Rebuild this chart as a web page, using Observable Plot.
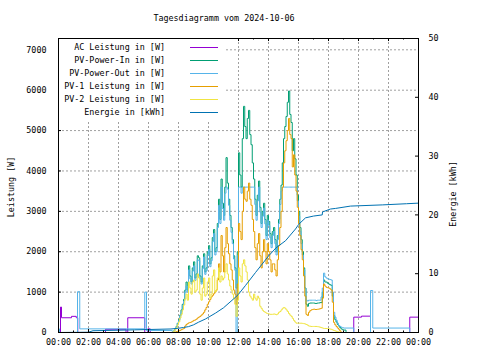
<!DOCTYPE html>
<html><head><meta charset="utf-8">
<script src="https://cdn.jsdelivr.net/npm/d3@7"></script>
<script src="https://cdn.jsdelivr.net/npm/@observablehq/plot@0.6"></script>
<style>body{margin:0;background:#fff}svg{display:block}</style>
</head><body><div id="chart"></div>
<script>
const titleText = "Tagesdiagramm vom 2024-10-06";
const yLabelLeft = "Leistung [W]";
const yLabelRight = "Energie [kWh]";
const seriesNames = ["AC Leistung in [W]","PV-Power-In in [W]","PV-Power-Out in [W]","PV-1 Leistung in [W]","PV-2 Leistung in [W]","Energie in [kWh]"];
const seriesColors = ["#9400d3","#009e73","#56b4e9","#e69f00","#f0e442","#0072b2"];

const xTickHours = [0,2,4,6,8,10,12,14,16,18,20,22,24];
const xTickLabels = ["00:00","02:00","04:00","06:00","08:00","10:00","12:00","14:00","16:00","18:00","20:00","22:00","00:00"];
const xMinorHours = [1,3,5,7,9,11,13,15,17,19,21,23];
const wTicks = [0,1000,2000,3000,4000,5000,6000,7000];
const kwhTicks = [0,10,20,30,40,50];
const wMax = 7280;
const kwhMax = 50;

// daytime samples: every 5 minutes from 07:30 to 19:00 (rows = hours)
const dayStart = "07:30";
const sampleMinutes = 5;
const powerIn = [
  0,10,40,90,150,230,
  320,430,560,700,820,1050,1250,1050,1650,1400,1250,1600,
  1750,1350,1450,1900,1850,1400,1250,1650,1950,1500,1600,2000,
  2150,1700,1850,2350,2550,2000,2100,2700,3300,2800,3800,3200,
  2900,3600,4330,3700,3300,2900,2600,2300,1900,1600,1100,2000,
  4450,3900,3600,4800,5600,5100,4800,5300,5500,4900,4650,4200,
  3800,3300,2900,3400,3750,3100,2700,3000,3200,2800,2400,2900,
  2750,2450,2200,2500,2600,2300,2000,2400,2800,3300,3650,4200,
  4800,5100,5350,5700,5980,5400,5200,4500,4800,4300,3900,3400,
  3000,2600,2300,2000,1600,1100,700,650,720,730,730,730,
  730,720,720,730,730,740,740,1000,1300,1250,1250,1220,
  1200,1180,1170,900,420,320,260,200,160,120,90,70,
  60];
const powerOut = [
  50,20,40,85,140,220,
  300,410,520,670,780,1000,1150,1000,1550,1330,1200,1520,
  1650,1290,1380,1800,1780,1330,1200,1580,1870,1440,1530,1920,
  2060,1630,1780,2250,2450,1920,2000,2600,3150,2700,3600,3070,
  2780,3450,3600,3550,3150,2780,2480,2200,1820,1540,0,1900,
  3600,3600,3450,3600,3600,3600,3600,3600,3600,3600,3600,3600,
  3600,3170,2780,3260,3600,2980,2600,2880,3080,2690,2300,2780,
  2650,2350,2100,2400,2500,2200,1920,2300,2700,3170,3500,3600,
  3600,3600,3600,3600,3600,3600,3600,3600,3600,3600,3600,3260,
  2880,2500,2200,1920,1550,1100,800,780,800,800,800,800,
  800,800,790,800,800,800,880,1100,1470,1380,1350,1330,
  1320,1310,1300,1000,500,380,300,230,170,150,130,120,
  110];
const pv1 = [
  0,0,0,10,20,30,
  40,55,70,85,100,160,200,220,240,250,260,280,
  300,310,330,360,380,400,430,460,500,560,620,700,
  760,820,880,920,960,1000,1050,1300,1700,1500,2400,1900,
  1500,2100,2600,2200,1950,1700,1550,1300,1050,950,700,1200,
  2700,2500,2300,3000,3600,3300,3250,3500,3700,3300,3150,2800,
  2500,2100,1800,2200,2450,1900,1600,2000,2300,2000,1700,2200,
  2000,1800,1500,1700,1700,1550,1400,1800,2150,2600,3000,3600,
  4200,4500,4750,5000,5300,4900,4800,4100,4400,3900,3500,3100,
  2700,2400,2050,1800,1400,900,450,420,500,540,560,570,
  580,570,570,575,580,590,600,850,1200,1150,1120,1110,
  1100,1080,1050,750,250,190,150,110,80,40,0,0,
  0];
const pv2 = [
  0,10,30,70,120,190,
  260,360,450,560,680,830,950,800,1250,1100,950,1250,
  1300,1000,1050,1450,1350,950,800,1100,1350,900,950,1250,
  1350,850,950,1400,1550,1000,1050,1350,1600,1250,1400,1300,
  1350,1500,1700,1450,1300,1150,1050,950,850,700,400,800,
  1600,1400,1250,1700,1800,1650,1500,1300,1000,900,850,800,
  950,850,800,900,850,650,600,550,520,500,480,470,
  460,450,450,450,460,450,440,460,500,520,560,600,
  620,600,560,520,470,430,400,350,300,260,230,230,
  230,230,230,225,220,210,200,180,160,155,150,150,
  150,150,150,145,140,130,120,110,100,100,100,95,
  90,85,80,65,50,40,30,20,10,5,0,0,
  0];

// night segments
const acTimes  = ["00:00","00:08","00:12","00:52","01:11","01:17","03:08","04:30","04:37","05:45","05:57","06:07","07:30","07:35","19:00","19:41","20:12","20:48","23:25","24:00"];
const acValues = [0,630,365,400,365,0,80,0,365,0,90,0,0,NaN,0,380,405,0,380,380];
const outMorningTimes  = ["00:00","00:04","01:16","01:25","05:45","05:52"];
const outMorningValues = [90,0,1010,90,1000,50];
const outEveningTimes  = ["19:41","20:48","20:57","23:25","24:00"];
const outEveningValues = [0,1040,110,0,0];
const zeroMorningTimes = ["00:00"]; const zeroMorningValues = [0];
const zeroEveningTimes = ["19:10","24:00"]; const zeroEveningValues = [0,0];

const energyTimes  = ["00:00","02:00","02:18","05:03","07:30","08:00","08:20","08:40","09:00","09:20","09:48","10:28","11:00","11:48","12:00","12:28","13:08","14:00","14:30","15:08","15:48","16:01","16:28","17:00","17:35","17:36","18:08","18:28","19:28","21:35","23:12","24:00"];
const energyValues = [0,0.05,0.3,0.45,0.6,0.73,0.85,1.0,1.3,1.75,2.3,3.3,4.2,6.0,6.5,8.0,10.2,13.0,14.4,15.6,17.6,18.4,19.5,19.8,20.0,20.5,21.0,21.1,21.5,21.7,21.9,22.0];

const parseT = s => { const [h, m] = s.split(":").map(Number); return h + m / 60; };
const pts = (times, values) => times.map((t, i) => ({x: parseT(t), y: values[i]}));
const dayPts = values => values.map((v, i) => ({x: parseT(dayStart) + i * sampleMinutes / 60, y: v}));
const kwhToW = wMax / kwhMax;

const acData = pts(acTimes, acValues);
const inData = [...pts(zeroMorningTimes, zeroMorningValues), ...dayPts(powerIn), ...pts(zeroEveningTimes, zeroEveningValues)];
const outData = [...pts(outMorningTimes, outMorningValues), ...dayPts(powerOut), ...pts(outEveningTimes, outEveningValues)];
const pv1Data = [...pts(zeroMorningTimes, zeroMorningValues), ...dayPts(pv1), ...pts(zeroEveningTimes, zeroEveningValues)];
const pv2Data = [...pts(zeroMorningTimes, zeroMorningValues), ...dayPts(pv2), ...pts(zeroEveningTimes, zeroEveningValues)];
const energyData = pts(energyTimes, energyValues);

const FONT = "DejaVu Sans Mono";
const FS = 8.4;
const grid = {stroke: "#a0a0a0", strokeDasharray: "2,2", strokeWidth: 1, strokeOpacity: 1};
const lineOpts = (color) => ({x: "x", y: "y", stroke: color, strokeWidth: 1, curve: "step-after"});
const tickW = 0.2; // hours, ~3px
const tickH = 75;  // W, ~3px

const svg = Plot.plot({
  width: 480, height: 360,
  marginLeft: 58, marginRight: 62, marginTop: 38, marginBottom: 28,
  x: {domain: [0, 24], axis: null},
  y: {domain: [0, wMax], axis: null},
  style: {fontFamily: FONT, fontSize: FS + "px", background: "#fff", color: "#000"},
  marks: [
    Plot.ruleX(xTickHours.slice(1, -1), {x: d => d, ...grid}),
    Plot.ruleY(wTicks.slice(1), {y: d => d, ...grid}),
    Plot.line(acData, lineOpts(seriesColors[0])),
    Plot.line(inData, lineOpts(seriesColors[1])),
    Plot.line(outData, lineOpts(seriesColors[2])),
    Plot.line(pv1Data, lineOpts(seriesColors[3])),
    Plot.line(pv2Data, lineOpts(seriesColors[4])),
    Plot.line(energyData, {x: "x", y: d => d.y * kwhToW, stroke: seriesColors[5], strokeWidth: 1}),
    Plot.ruleY(wTicks, {y: d => d, x1: 0, x2: tickW, stroke: "#000"}),
    Plot.ruleY(kwhTicks, {y: d => d * kwhToW, x1: 24 - tickW, x2: 24, stroke: "#000"}),
    Plot.ruleX(xTickHours, {x: d => d, y1: 0, y2: tickH, stroke: "#000"}),
    Plot.ruleX(xTickHours, {x: d => d, y1: wMax - tickH, y2: wMax, stroke: "#000"}),
    Plot.ruleX(xMinorHours, {x: d => d, y1: 0, y2: tickH / 2, stroke: "#000"}),
    Plot.ruleX(xMinorHours, {x: d => d, y1: wMax - tickH / 2, y2: wMax, stroke: "#000"}),
    Plot.frame({stroke: "#000", strokeWidth: 1}),
    Plot.text(xTickHours, {x: d => d, text: (d, i) => xTickLabels[i], frameAnchor: "bottom", dy: 12, fill: "#000"}),
    Plot.text(wTicks, {y: d => d, text: d => String(d), frameAnchor: "left", dx: -12, textAnchor: "end", fill: "#000"}),
    Plot.text(kwhTicks, {y: d => d * kwhToW, text: d => String(d), frameAnchor: "right", dx: 10, textAnchor: "start", fill: "#000"})
  ]
});

const s = d3.select(svg);
s.append("text").attr("x", 224).attr("y", 18).attr("text-anchor", "middle").attr("dominant-baseline", "central")
  .attr("font-family", FONT).attr("font-size", FS).attr("fill", "#000").text(titleText);
s.append("text").attr("transform", "translate(11,187) rotate(-90)").attr("text-anchor", "middle").attr("dominant-baseline", "central")
  .attr("font-family", FONT).attr("font-size", FS).attr("fill", "#000").text(yLabelLeft);
s.append("text").attr("transform", "translate(453,194) rotate(-90)").attr("text-anchor", "middle").attr("dominant-baseline", "central")
  .attr("font-family", FONT).attr("font-size", FS).attr("fill", "#000").text(yLabelRight);

const lg = s.append("g");
lg.append("rect").attr("x", 59).attr("y", 39).attr("width", 165).attr("height", 82).attr("fill", "#fff");
seriesNames.forEach((name, i) => {
  const y = 46.7 + i * 13.07;
  lg.append("text").attr("x", 165).attr("y", y).attr("text-anchor", "end").attr("dominant-baseline", "central")
    .attr("font-family", FONT).attr("font-size", FS).attr("fill", "#000").text(name);
  lg.append("line").attr("x1", 190).attr("x2", 218).attr("y1", Math.round(y) + 0.5).attr("y2", Math.round(y) + 0.5)
    .attr("stroke", seriesColors[i]).attr("stroke-width", 1);
});

document.getElementById("chart").appendChild(svg);
</script>
</body></html>
